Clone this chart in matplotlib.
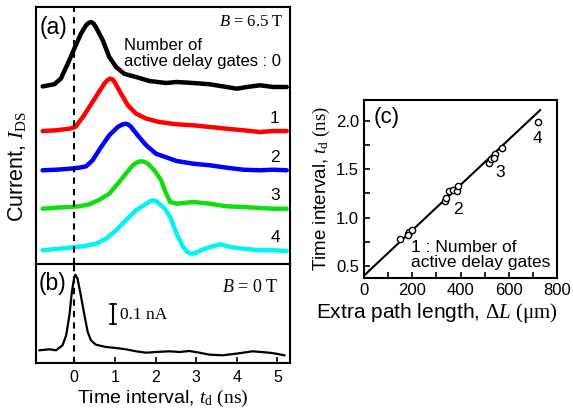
import matplotlib
matplotlib.use("Agg")
import matplotlib.pyplot as plt
from matplotlib.ticker import MultipleLocator, FormatStrFormatter

plt.rcParams["font.family"] = ["Liberation Sans", "DejaVu Sans"]
plt.rcParams["mathtext.fontset"] = "custom"
plt.rcParams["mathtext.rm"] = "Liberation Serif"
plt.rcParams["mathtext.it"] = "Liberation Serif:italic"
plt.rcParams["mathtext.bf"] = "Liberation Serif:bold"

# (a) B = 6.5 T, pulses for 0..4 active delay gates (time in ns, current in nA above baseline)
t_gate0 = [-0.78, -0.49, -0.33, -0.16, 0.00, 0.165, 0.29, 0.35, 0.41, 0.47, 0.53, 0.70, 0.86, 1.03,
           1.23, 1.52, 1.85, 2.26, 2.52, 2.93, 3.34, 3.75, 4.00, 4.25, 4.57, 4.90, 5.23]
i_gate0 = [0.003, 0.014, 0.042, 0.117, 0.192, 0.267, 0.309, 0.320, 0.325, 0.318, 0.300, 0.234, 0.150,
           0.100, 0.066, 0.050, 0.030, 0.020, 0.025, 0.020, 0.0135, 0.0, -0.0085, 0.0, 0.0085, 0.0, 0.0]

t_gate1 = [-0.78, -0.45, -0.12, 0.025, 0.21, 0.37, 0.58, 0.74, 0.81, 0.88, 0.94, 0.99, 1.15, 1.32,
           1.52, 1.77, 2.09, 2.52, 2.93, 3.34, 3.75, 4.16, 4.57, 4.90, 5.23]
i_gate1 = [0.0, 0.0035, 0.0115, 0.020, 0.070, 0.120, 0.187, 0.237, 0.253, 0.262, 0.258, 0.245, 0.187,
           0.128, 0.087, 0.062, 0.045, 0.0335, 0.0285, 0.020, 0.0115, 0.0035, -0.005, 0.0, 0.0]

t_gate2 = [-0.78, -0.45, -0.12, 0.12, 0.29, 0.45, 0.66, 0.86, 1.07, 1.17, 1.26, 1.33, 1.40, 1.56,
           1.77, 2.01, 2.52, 2.93, 3.34, 3.75, 4.16, 4.57, 4.90, 5.23]
i_gate2 = [0.0, 0.003, 0.008, 0.013, 0.020, 0.050, 0.1165, 0.175, 0.2165, 0.228, 0.233, 0.229, 0.2165,
           0.175, 0.125, 0.083, 0.0465, 0.033, 0.025, 0.013, 0.003, 0.0, 0.003, 0.0]

t_gate3 = [-0.78, -0.45, -0.12, 0.12, 0.37, 0.62, 0.86, 1.07, 1.27, 1.44, 1.53, 1.63, 1.72, 1.81,
           1.97, 2.14, 2.23, 2.36, 2.52, 2.93, 3.34, 3.75, 4.16, 4.57, 4.90, 5.23]
i_gate3 = [0.0, 0.005, 0.0085, 0.012, 0.022, 0.045, 0.075, 0.125, 0.175, 0.217, 0.230, 0.237, 0.235,
           0.225, 0.192, 0.142, 0.090, 0.0335, 0.025, 0.0335, 0.025, 0.012, 0.0085, 0.0035, 0.0, 0.0]

t_gate4 = [-0.78, -0.45, -0.12, 0.21, 0.53, 0.78, 1.03, 1.27, 1.52, 1.77, 1.86, 1.95, 2.02, 2.09,
           2.23, 2.36, 2.52, 2.68, 2.78, 2.89, 3.00, 3.11, 3.34, 3.59, 3.84, 4.16, 4.57, 4.90, 5.23]
i_gate4 = [0.0, 0.0065, 0.013, 0.020, 0.033, 0.058, 0.100, 0.150, 0.200, 0.233, 0.245, 0.250, 0.245,
           0.233, 0.207, 0.1665, 0.083, 0.0165, -0.008, -0.017, -0.012, 0.0, 0.0165, 0.030, 0.0165,
           0.008, 0.0, 0.0, -0.0035]

gate_labels = ["0", "1", "2", "3", "4"]

# (b) B = 0 T
t_b0 = [-0.86, -0.61, -0.45, -0.29, -0.20, -0.12, -0.06, 0.0, 0.025, 0.08, 0.16, 0.25, 0.33, 0.41,
        0.53, 0.78, 1.03, 1.27, 1.52, 1.77, 2.01, 2.34, 2.59, 2.83, 3.08, 3.33, 3.65, 3.98, 4.39,
        4.80, 4.97, 5.17]
i_b0 = [0.0235, 0.0285, 0.0235, 0.0485, 0.0985, 0.1985, 0.315, 0.39, 0.4015, 0.3815, 0.2985, 0.1985,
        0.115, 0.0735, 0.0515, 0.040, 0.035, 0.0285, 0.0185, 0.0115, 0.015, 0.0185, 0.015, 0.020,
        0.0115, 0.0015, -0.0015, 0.0065, 0.0185, 0.0115, 0.0065, -0.0015]

# (c) time interval vs extra path length
path_um = [149, 181, 187, 200, 184, 336, 339, 354, 368, 384, 389, 520, 527, 541, 537, 571, 720]
td_ns = [0.78, 0.83, 0.85, 0.87, 0.82, 1.17, 1.20, 1.27, 1.28, 1.27, 1.33, 1.56, 1.60, 1.66, 1.62, 1.72, 1.99]
fit_um = [0, 730]
fit_ns = [0.40, 2.11]

# layout / style
offsets = [0.885, 0.665, 0.4685, 0.2765, 0.0685]
colors = ["black", "#ff0000", "#0000ff", "#11dd11", "#00f4f4"]
label_y = [None, 0.7265, 0.53, 0.3435, 0.135]

fig = plt.figure(figsize=(5.73, 4.08), dpi=100)
ax_a = fig.add_axes([36 / 573, 144 / 408, 254 / 573, 257 / 408])
ax_b = fig.add_axes([36 / 573, 45 / 408, 254 / 573, 99 / 408])
ax_c = fig.add_axes([364 / 573, 130 / 408, 193 / 573, 178 / 408])

xlim = (-0.943, 5.31)
traces = [(t_gate0, i_gate0), (t_gate1, i_gate1), (t_gate2, i_gate2), (t_gate3, i_gate3), (t_gate4, i_gate4)]
for k, (t, cur) in enumerate(traces):
    ax_a.plot(t, [c + offsets[k] for c in cur], color=colors[k], lw=3.2,
              solid_joinstyle="round", solid_capstyle="round")
    if k > 0:
        ax_a.text(4.94, label_y[k], gate_labels[k], ha="center", va="center", fontsize=12.5)
ax_a.axvline(0, color="black", ls=(0, (3, 2.5)), lw=1.5, zorder=5)
ax_a.set_xlim(*xlim)
ax_a.set_ylim(0, 1.285)
ax_a.set_xticks([])
ax_a.set_yticks([])
ax_a.text(0.015, 0.92, "(a)", transform=ax_a.transAxes, fontsize=16.5, va="center", ha="left")
ax_a.text(0.974, 0.942, "$B$ = 6.5 T", transform=ax_a.transAxes, fontsize=12,
          family="Liberation Serif", ha="right", va="center")
ax_a.text(0.346, 0.818, "Number of\nactive delay gates : 0", transform=ax_a.transAxes,
          fontsize=12, ha="left", va="center", linespacing=1.12)

ax_b.plot(t_b0, i_b0, color="black", lw=1.6, solid_joinstyle="round")
ax_b.axvline(0, color="black", ls=(0, (3, 2.5)), lw=1.5)
ax_b.set_xlim(*xlim)
ax_b.set_ylim(-0.04, 0.455)
ax_b.set_yticks([])
ax_b.set_xticks([0, 1, 2, 3, 4, 5])
ax_b.tick_params(axis="x", direction="in", length=4, width=1.2, labelsize=11.5, pad=5)
ax_b.plot([0.96, 0.96], [0.155, 0.255], color="black", lw=1.5)
ax_b.plot([0.89, 1.03], [0.155, 0.155], color="black", lw=1.2)
ax_b.plot([0.89, 1.03], [0.255, 0.255], color="black", lw=1.2)
ax_b.text(1.12, 0.2, "0.1 nA", family="Liberation Serif", fontsize=12.5, ha="left", va="center")
ax_b.text(0.01, 0.8, "(b)", transform=ax_b.transAxes, fontsize=16.5, va="center", ha="left")
ax_b.text(5.03, 0.34, "$B$ = 0 T", family="Liberation Serif", fontsize=13, ha="right", va="center")
ax_b.set_xlabel(r"Time interval, $t_{\rm d}\ \mathrm{(ns)}$", fontsize=14, labelpad=2)

for ax in (ax_a, ax_b, ax_c):
    for sp in ax.spines.values():
        sp.set_linewidth(1.5)

fig.text(17 / 573, 1 - 166 / 408, r"Current, $I_{\rm DS}$", rotation=90, fontsize=15.5,
         ha="center", va="center")

ax_c.plot(fit_um, fit_ns, color="black", lw=1.5)
ax_c.plot(path_um, td_ns, "o", mfc="white", mec="black", ms=4.5, mew=1)
ax_c.set_xlim(0, 800)
ax_c.set_ylim(0.375, 2.215)
ax_c.xaxis.set_major_locator(MultipleLocator(200))
ax_c.xaxis.set_minor_locator(MultipleLocator(100))
ax_c.yaxis.set_major_locator(MultipleLocator(0.5))
ax_c.yaxis.set_minor_locator(MultipleLocator(0.25))
ax_c.yaxis.set_major_formatter(FormatStrFormatter("%.1f"))
ax_c.tick_params(which="both", direction="in", length=4, width=1.2, labelsize=12)
ax_c.text(0.05, 0.9, "(c)", transform=ax_c.transAxes, fontsize=16, va="center", ha="left")
ax_c.text(390, 1.08, "2", fontsize=12.5, ha="center", va="center")
ax_c.text(564, 1.47, "3", fontsize=12.5, ha="center", va="center")
ax_c.text(720, 1.82, "4", fontsize=12.5, ha="center", va="center")
ax_c.text(195, 0.61, "1 : Number of\nactive delay gates", fontsize=12.5, ha="left", va="center",
          linespacing=1.0)
ax_c.set_xlabel(r"Extra path length, $\mathit{\Delta L}\ \mathrm{(\mu m)}$", fontsize=15, labelpad=2)
ax_c.xaxis.set_label_coords((437 - 364) / 193, -0.13)
ax_c.set_ylabel(r"Time interval, $t_{\rm d}\ \mathrm{(ns)}$", fontsize=13.5, labelpad=3)

fig.savefig("out.png", dpi=100)
